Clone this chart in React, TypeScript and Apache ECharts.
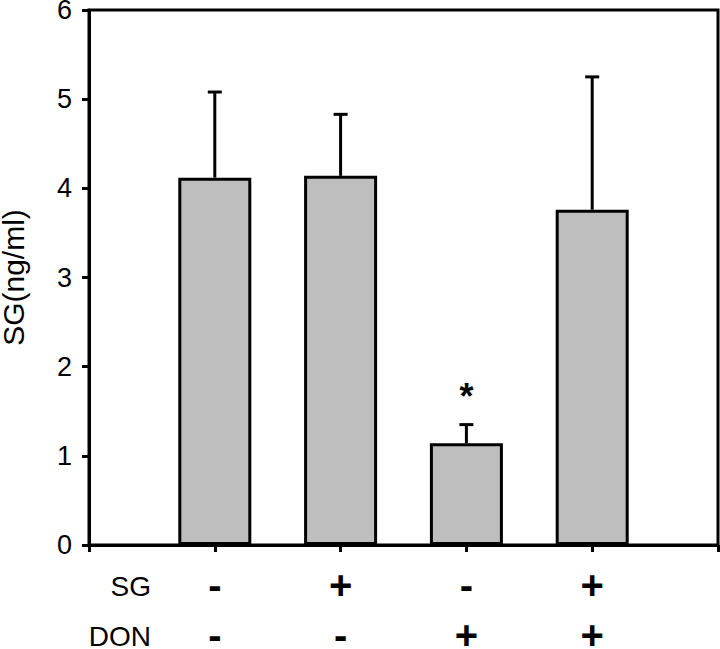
import React, { useEffect, useRef } from "react";
import * as echarts from "echarts";

const groups = [1, 2, 3, 4];
const means = [4.12, 4.14, 1.14, 3.76];
const upperErr = [0.96, 0.69, 0.21, 1.49];
const sgRow = ["-", "+", "-", "+"];
const donRow = ["-", "-", "+", "+"];
const marks = ["", "", "*", ""];
const yTicks = [0, 1, 2, 3, 4, 5, 6];

const FONT = "'Liberation Sans', Arial, Helvetica, sans-serif";

export default function App() {
  const ref = useRef<HTMLDivElement>(null);
  useEffect(() => {
    if (!ref.current) return;
    document.body.style.margin = "0";
    const chart = echarts.init(ref.current, null, { renderer: "svg" });
    const barData = groups.map((g, i) => [g, means[i]]);
    const errData = groups.map((g, i) => [g, means[i], means[i] + upperErr[i], i]);
    chart.setOption({
      animation: false,
      grid: {
        left: 89,
        right: 2,
        top: 10,
        bottom: 104,
        containLabel: false,
        outerBoundsMode: "none",
        show: true,
        borderColor: "#000",
        borderWidth: 3,
        backgroundColor: "transparent",
      },
      xAxis: {
        type: "value",
        min: 0,
        max: 5,
        interval: 1,
        splitLine: { show: false },
        axisLine: { show: true, lineStyle: { color: "#000", width: 3 } },
        axisTick: { show: true, length: 7, lineStyle: { color: "#000", width: 3 } },
        axisLabel: {
          margin: 15,
          fontFamily: FONT,
          fontSize: 40,
          fontWeight: "bold",
          lineHeight: 50,
          color: "#000",
          formatter: (v: number) => {
            const i = groups.indexOf(v);
            if (i < 0) return "";
            return sgRow[i] + "\n" + donRow[i];
          },
        },
      },
      yAxis: {
        type: "value",
        min: 0,
        max: 6,
        interval: 1,
        name: "SG(ng/ml)",
        nameLocation: "middle",
        nameGap: 61,
        nameRotate: 90,
        nameTextStyle: { fontFamily: FONT, fontSize: 30, color: "#000" },
        splitLine: { show: false },
        axisLine: { show: true, lineStyle: { color: "#000", width: 3 } },
        axisTick: { show: true, length: 7, lineStyle: { color: "#000", width: 3 } },
        axisLabel: {
          margin: 17,
          fontFamily: FONT,
          fontSize: 27,
          color: "#000",
          formatter: (v: number) => (yTicks.includes(v) ? String(v) : ""),
        },
      },
      graphic: [
        {
          type: "text",
          x: 151,
          y: 586,
          style: {
            text: "SG",
            fontFamily: FONT,
            fontSize: 28,
            fill: "#000",
            align: "right",
            verticalAlign: "middle",
          },
        },
        {
          type: "text",
          x: 151,
          y: 636,
          style: {
            text: "DON",
            fontFamily: FONT,
            fontSize: 28,
            fill: "#000",
            align: "right",
            verticalAlign: "middle",
          },
        },
      ],
      series: [
        {
          type: "bar",
          data: barData,
          barWidth: 73,
          itemStyle: { color: "#bebebe", borderColor: "#000", borderWidth: 3 },
          z: 2,
        },
        {
          type: "custom",
          data: errData,
          z: 3,
          renderItem: (params: any, api: any) => {
            const x = api.value(0);
            const lo = api.coord([x, api.value(1)]);
            const hi = api.coord([x, api.value(2)]);
            const idx = api.value(3);
            const capHalf = 7;
            const children: any[] = [
              {
                type: "line",
                shape: { x1: lo[0], y1: lo[1], x2: hi[0], y2: hi[1] },
                style: { stroke: "#000", lineWidth: 3 },
              },
              {
                type: "line",
                shape: { x1: hi[0] - capHalf, y1: hi[1], x2: hi[0] + capHalf, y2: hi[1] },
                style: { stroke: "#000", lineWidth: 3 },
              },
            ];
            if (marks[idx]) {
              children.push({
                type: "text",
                x: hi[0],
                y: hi[1] - 10,
                style: {
                  text: marks[idx],
                  fontFamily: FONT,
                  fontSize: 36,
                  fontWeight: "bold",
                  fill: "#000",
                  align: "center",
                  verticalAlign: "bottom",
                },
              });
            }
            return { type: "group", children };
          },
        },
      ],
    });
    return () => chart.dispose();
  }, []);
  return <div ref={ref} style={{ width: 720, height: 649 }} />;
}
